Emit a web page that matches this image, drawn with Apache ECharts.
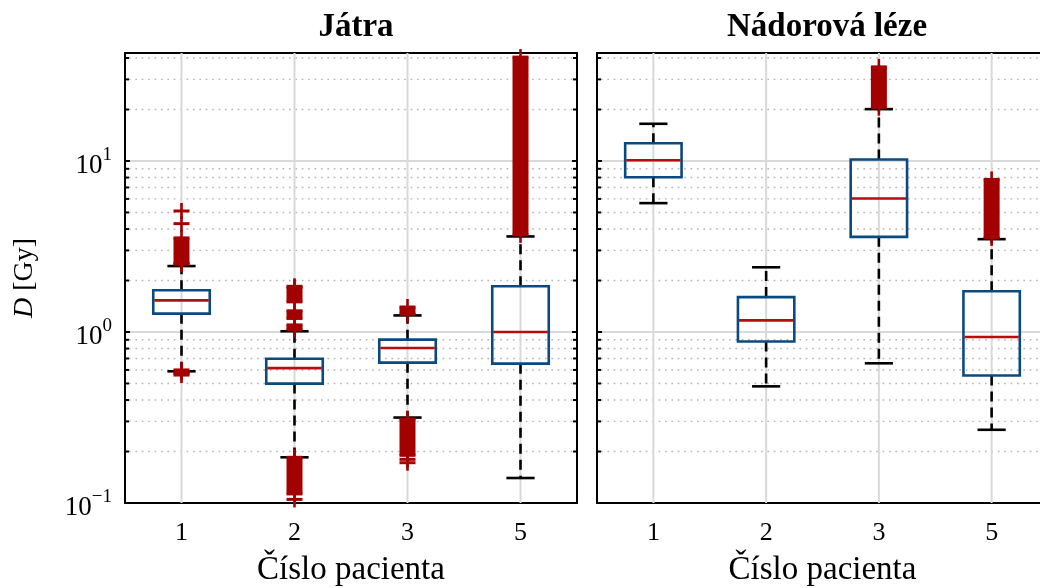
<!DOCTYPE html>
<html>
<head>
<meta charset="utf-8">
<script src="https://cdn.jsdelivr.net/npm/echarts@6/dist/echarts.min.js"></script>
<style>
  html, body { margin: 0; padding: 0; background: #fff; }
  #chart { width: 1040px; height: 588px; }
</style>
</head>
<body>
<div id="chart"></div>
<script>
// Patients on the horizontal axis
const categories = ['1', '2', '3', '5'];
const panelTitles = ['Játra', 'Nádorová léze'];

// Box statistics per patient: [lower whisker, Q1, median, Q3, upper whisker] in Gy
const liverBoxes = [
  [0.589, 1.28, 1.53, 1.755, 2.43],
  [0.185, 0.499, 0.615, 0.698, 1.01],
  [0.316, 0.662, 0.806, 0.902, 1.25],
  [0.14, 0.653, 1.0, 1.85, 3.62]
];
const tumorBoxes = [
  [5.67, 8.03, 10.1, 12.7, 16.5],
  [0.481, 0.879, 1.17, 1.60, 2.39],
  [0.656, 3.6, 6.04, 10.2, 20.1],
  [0.268, 0.557, 0.935, 1.73, 3.49]
];

// Densely packed outliers: [patient index, from, to]
const liverOutlierRuns = [
  [0, 2.5, 3.55], [0, 0.56, 0.6],
  [1, 1.5, 1.82], [1, 1.2, 1.33], [1, 1.03, 1.1], [1, 0.113, 0.185],
  [2, 1.27, 1.40], [2, 0.19, 0.31],
  [3, 3.7, 40.5]
];
// Isolated outliers: [patient index, value]
const liverOutliers = [
  [0, 5.1], [0, 4.3], [0, 2.5], [0, 0.58],
  [1, 1.85], [1, 0.105],
  [2, 0.18], [2, 0.172]
];
const tumorOutlierRuns = [
  [2, 20.5, 35.5], [3, 3.55, 7.8]
];
const tumorOutliers = [];

// Logarithmic dose axis
const yMin = 0.1;
const yMax = 42.8;
const minorTicks = [0.2, 0.3, 0.4, 0.5, 0.6, 0.7, 0.8, 0.9,
                    2, 3, 4, 5, 6, 7, 8, 9, 20, 30, 40];

const FONT = '"Liberation Serif", "DejaVu Serif", serif';
const BOX_BLUE = '#0b4a80';
const MEDIAN_RED = '#b80d0d';
const OUTLIER_RED = '#a30000';

function renderBox(params, api) {
  const i = api.value(0);
  const band = api.size([1, 0])[0];
  const cs = params.coordSys;
  const x = api.coord([i, 1])[0];
  const y = v => api.coord([i, v])[1];
  const lw = y(api.value(1)), q1 = y(api.value(2)), med = y(api.value(3)),
        q3 = y(api.value(4)), uw = y(api.value(5));
  const bw = band * 0.5, cw = band * 0.25;
  const dash = { stroke: '#000', lineWidth: 2.6, lineDash: [10, 6], fill: null };
  const solid = { stroke: '#000', lineWidth: 2.6, fill: null };
  return {
    type: 'group',
    children: [
      { type: 'line', shape: { x1: x, y1: cs.y, x2: x, y2: cs.y + cs.height },
        style: { stroke: '#d9d9d9', lineWidth: 2 } },
      { type: 'line', shape: { x1: x, y1: q3, x2: x, y2: uw }, style: dash },
      { type: 'line', shape: { x1: x, y1: q1, x2: x, y2: lw }, style: dash },
      { type: 'line', shape: { x1: x - cw / 2, y1: uw, x2: x + cw / 2, y2: uw }, style: solid },
      { type: 'line', shape: { x1: x - cw / 2, y1: lw, x2: x + cw / 2, y2: lw }, style: solid },
      { type: 'rect', shape: { x: x - bw / 2, y: q3, width: bw, height: q1 - q3 },
        style: { stroke: BOX_BLUE, lineWidth: 2.6, fill: null } },
      { type: 'line', shape: { x1: x - bw / 2 + 1, y1: med, x2: x + bw / 2 - 1, y2: med },
        style: { stroke: MEDIAN_RED, lineWidth: 2.6 } }
    ]
  };
}

function plusMarker(x, y, s) {
  return [
    { type: 'line', shape: { x1: x - s, y1: y, x2: x + s, y2: y },
      style: { stroke: OUTLIER_RED, lineWidth: 3 } },
    { type: 'line', shape: { x1: x, y1: y - s, x2: x, y2: y + s },
      style: { stroke: OUTLIER_RED, lineWidth: 2.6 } }
  ];
}

function renderOutliers(params, api) {
  const i = api.value(0);
  const x = api.coord([i, 1])[0];
  const yHi = api.coord([i, api.value(2)])[1];
  const yLo = api.coord([i, api.value(1)])[1];
  const s = 8;
  const children = [];
  if (yLo - yHi > 0.5) {
    children.push({ type: 'rect', shape: { x: x - s, y: yHi, width: 2 * s, height: yLo - yHi },
      style: { fill: OUTLIER_RED } });
    children.push(...plusMarker(x, yHi, s), ...plusMarker(x, yLo, s));
  } else {
    children.push(...plusMarker(x, yLo, s));
  }
  return { type: 'group', children };
}

function renderMinor(params, api) {
  const cs = params.coordSys;
  const y = api.coord([0, api.value(1)])[1];
  return {
    type: 'group',
    children: [
      { type: 'line', shape: { x1: cs.x + 4, y1: y, x2: cs.x + cs.width - 4, y2: y },
        style: { stroke: '#b3b3b3', lineWidth: 1.4, lineDash: [1.6, 4.8] } },
      { type: 'line', shape: { x1: cs.x, y1: y, x2: cs.x + 4, y2: y },
        style: { stroke: '#000', lineWidth: 2 } },
      { type: 'line', shape: { x1: cs.x + cs.width - 4, y1: y, x2: cs.x + cs.width, y2: y },
        style: { stroke: '#000', lineWidth: 2 } }
    ]
  };
}

// Only whole decades get a 10^n label
function supLabel(value) {
  const lg = Math.log10(value);
  const e = Math.round(lg);
  if (Math.abs(lg - e) > 1e-6) return '';
  return '{b|10}{s|' + (e < 0 ? '\u2212' + (-e) : e) + '}';
}

const grids = [
  { left: 125, top: 53, width: 452, height: 450, outerBoundsMode: 'none', containLabel: false },
  { left: 597, top: 53, width: 451, height: 450, outerBoundsMode: 'none', containLabel: false }
];

const xAxes = [];
const yAxes = [];
grids.forEach((g, gi) => {
  ['bottom', 'top'].forEach(pos => {
    xAxes.push({
      type: 'category', gridIndex: gi, position: pos, data: categories,
      boundaryGap: true,
      axisLine: { lineStyle: { color: '#000', width: 2 } },
      axisTick: { inside: true, alignWithLabel: true, length: 5, lineStyle: { color: '#000', width: 2 } },
      axisLabel: pos === 'bottom'
        ? { show: true, fontFamily: FONT, fontSize: 26, color: '#000', margin: 17 }
        : { show: false },
      splitLine: { show: false },
      name: pos === 'bottom' ? 'Číslo pacienta' : '',
      nameLocation: 'middle', nameGap: 51,
      nameTextStyle: { fontFamily: FONT, fontSize: 33, color: '#000' }
    });
  });
  ['left', 'right'].forEach(pos => {
    const main = pos === 'left';
    yAxes.push({
      type: 'log', logBase: 10, gridIndex: gi, position: pos, min: yMin, max: yMax,
      axisLine: { show: true, lineStyle: { color: '#000', width: 2 } },
      axisTick: { show: true, inside: true, length: 5, lineStyle: { color: '#000', width: 2 } },
      axisLabel: (main && gi === 0) ? {
        show: true, formatter: supLabel, margin: 13,
        showMaxLabel: false,
        rich: {
          b: { fontFamily: FONT, fontSize: 27, color: '#000', lineHeight: 30, padding: [10, 0, 0, 0] },
          s: { fontFamily: FONT, fontSize: 19, color: '#000', verticalAlign: 'top', lineHeight: 18 }
        }
      } : { show: false },
      splitLine: { show: main, lineStyle: { color: '#d9d9d9', width: 2 } },
      name: (main && gi === 0) ? '{i|D} [Gy]' : '',
      nameLocation: 'middle', nameRotate: 90, nameGap: 86,
      nameTextStyle: {
        fontFamily: FONT, fontSize: 28, color: '#000',
        rich: { i: { fontFamily: FONT, fontStyle: 'italic', fontSize: 28, color: '#000' } }
      }
    });
  });
});

const series = [];
[[liverBoxes, liverOutlierRuns, liverOutliers], [tumorBoxes, tumorOutlierRuns, tumorOutliers]]
  .forEach(([boxes, runs, singles], gi) => {
    const xi = gi * 2, yi = gi * 2;
    series.push({
      type: 'custom', xAxisIndex: xi, yAxisIndex: yi, z: 1, silent: true, clip: false,
      renderItem: renderMinor, encode: { x: 0, y: 1 },
      data: minorTicks.map(v => [0, v])
    });
    series.push({
      type: 'custom', xAxisIndex: xi, yAxisIndex: yi, z: 2, silent: true, clip: false,
      renderItem: renderBox, encode: { x: 0, y: [1, 2, 3, 4, 5] },
      data: boxes.map((b, i) => [i, ...b])
    });
    series.push({
      type: 'custom', xAxisIndex: xi, yAxisIndex: yi, z: 3, silent: true, clip: false,
      renderItem: renderOutliers, encode: { x: 0, y: [1, 2] },
      data: runs.concat(singles.map(p => [p[0], p[1], p[1]]))
    });
  });

const chart = echarts.init(document.getElementById('chart'), null, { renderer: 'canvas' });
chart.setOption({
  animation: false,
  backgroundColor: '#fff',
  title: panelTitles.map((t, i) => ({
    text: t,
    left: grids[i].left + (i === 0 ? 226 : 225),
    top: 6,
    textAlign: 'center',
    textStyle: { fontFamily: FONT, fontWeight: 'bold', fontSize: 33, color: '#000' }
  })),
  grid: grids,
  xAxis: xAxes,
  yAxis: yAxes,
  series
});
</script>
</body>
</html>
